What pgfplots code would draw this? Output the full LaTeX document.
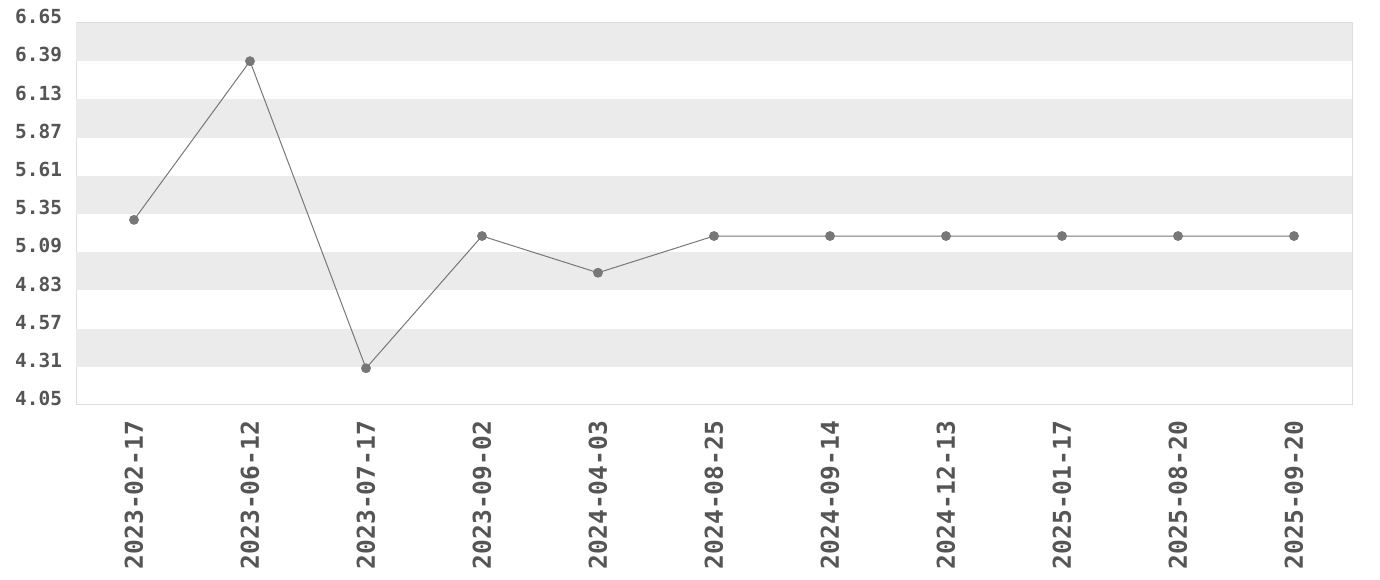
\documentclass[border=0pt]{standalone}
\usepackage{fontspec}
\setmainfont{DejaVu Sans Mono}
\usepackage{pgfplots}
\pgfplotsset{compat=1.18}
\definecolor{band}{HTML}{EBEBEB}
\definecolor{frame}{HTML}{DDDDDD}
\definecolor{lbl}{HTML}{555555}
\definecolor{ln}{HTML}{777777}

\begin{document}
\begin{tikzpicture}
\begin{axis}[
    scale only axis,
    width=638pt, height=191pt,
    xmin=-0.5, xmax=10.5,
    ymin=4.05, ymax=6.65,
    ytick={4.05,4.31,4.57,4.83,5.09,5.35,5.61,5.87,6.13,6.39,6.65},
    yticklabels={4.05,4.31,4.57,4.83,5.09,5.35,5.61,5.87,6.13,6.39,6.65},
    xtick={0,...,10},
    xticklabels={2023-02-17,2023-06-12,2023-07-17,2023-09-02,2024-04-03,2024-08-25,2024-09-14,2024-12-13,2025-01-17,2025-08-20,2025-09-20},
    x tick label style={rotate=90, anchor=east, font=\fontsize{12.3}{14}\selectfont\bfseries, text=lbl},
    y tick label style={font=\fontsize{9.7}{12}\selectfont\bfseries, text=lbl, yshift=3.2pt},
    major tick length=0pt,
    xticklabel shift=4.5pt,
    yticklabel shift=3.5pt,
    axis line style={frame, line width=0.5pt},
    clip=false,
]
\fill[band] (axis cs:-0.5,6.39) rectangle (axis cs:10.5,6.65);
\fill[band] (axis cs:-0.5,5.87) rectangle (axis cs:10.5,6.13);
\fill[band] (axis cs:-0.5,5.35) rectangle (axis cs:10.5,5.61);
\fill[band] (axis cs:-0.5,4.83) rectangle (axis cs:10.5,5.09);
\fill[band] (axis cs:-0.5,4.31) rectangle (axis cs:10.5,4.57);
\addplot[ln, line width=0.5pt, mark=*, mark size=2.2pt, mark options={fill=ln, draw=ln}]
coordinates {(0,5.31) (1,6.39) (2,4.30) (3,5.20) (4,4.95) (5,5.20) (6,5.20) (7,5.20) (8,5.20) (9,5.20) (10,5.20)};
\end{axis}
\pgfresetboundingbox
\path ([xshift=-38pt,yshift=-87.5pt]current axis.south west) rectangle ([xshift=14pt,yshift=11.5pt]current axis.north east);
\end{tikzpicture}
\end{document}
